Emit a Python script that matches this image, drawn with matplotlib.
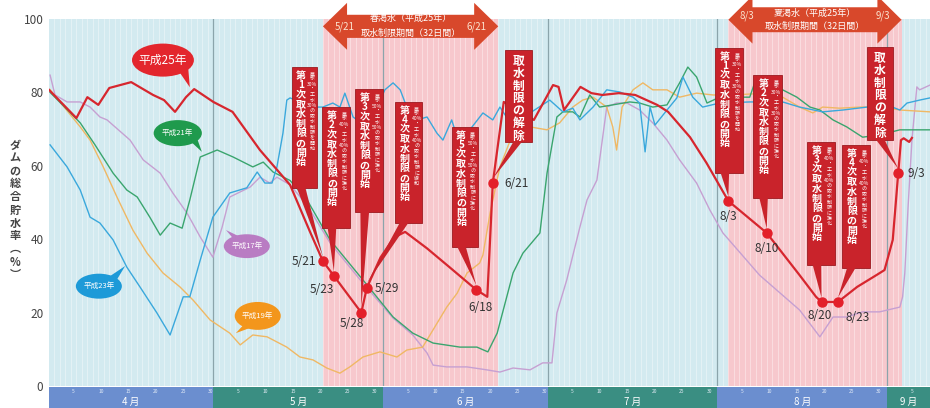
import matplotlib
matplotlib.use("Agg")
import matplotlib.pyplot as plt
import matplotlib.patches as patches
import numpy as np

plt.rcParams['font.family'] = ['Noto Sans CJK JP', 'DejaVu Sans']

# x axis: days counted from April 1 (= 0)
MONTHS = ["4 月", "5 月", "6 月", "7 月", "8 月", "9 月"]
MONTH_LEN = [30, 31, 30, 31, 31, 30]
DAY_TICKS = [5, 10, 15, 20, 25, 30]
X_MAX = 160.8

# 平成25年 (red)
H25_DAY = [0, 5, 7, 9, 11, 15, 19, 21, 23, 25, 26.5, 30, 33.5, 38.5, 44, 47.5,
           50, 52, 57, 58, 60.5, 63, 65, 69, 73, 78, 80, 81, 83, 88.5, 92, 93,
           94, 97, 99, 101, 104, 107, 111, 113, 117, 120, 124, 131, 137, 140,
           141, 144, 147.5, 151, 152.5, 154, 155, 155.5, 156, 157, 157.5]
H25_VAL = [80.7, 73, 78.7, 76.6, 81.2, 82.8, 79.3, 77.9, 74.7, 78.7, 80.9, 77.4,
           74.7, 64.3, 54.8, 42.5, 34, 30, 20, 26.7, 35, 40.5, 42, 37.5, 32.5,
           26.2, 24.3, 55.3, 77.4, 72.5, 82, 81.5, 75.2, 81.5, 79.8, 79.3, 79.8,
           79.3, 76.6, 74.7, 67.8, 60.8, 50.4, 41.7, 30.2, 24.3, 22.9, 22.9, 27,
           30.2, 31.6, 39.8, 58, 67, 67.5, 66.5, 67.6]

# 平成21年 (green)
H21_DAY = [0.2, 5.7, 8.4, 11.7, 14.2, 16.1, 18.4, 20.3, 22.1, 24.3, 25.7, 27.6,
           30.7, 33.6, 37.2, 39.1, 40.9, 44.0, 47.1, 51.3, 57.3, 62.8, 66.4,
           70.1, 75.0, 78.1, 80.1, 81.8, 84.7, 86.5, 89.6, 90.9, 92.7, 93.8,
           95.6, 96.9, 98.7, 100.5, 102.9, 106.0, 107.8, 110.2, 112.8, 115.1,
           116.6, 118.2, 120.1, 122.4, 127.9, 128.8, 133.9, 136.5, 138.9, 140.7,
           143.1, 145.6, 148.5, 151.6, 155.3, 160.8]
H21_VAL = [80, 71.7, 65.7, 58, 53.4, 51.5, 46, 41.1, 44.4, 43, 50.7, 62.4, 64.3,
           62.4, 59.7, 61, 58.3, 56, 50.7, 39.8, 28.9, 18.8, 14.4, 11.7, 10.6,
           10.6, 9.3, 14.4, 30.8, 36.2, 41.7, 58, 73.3, 74.7, 74.7, 73.3, 79.3,
           76, 76.6, 77.4, 77.1, 76, 76.6, 82.6, 86.9, 84.2, 77.1, 78.7, 78.7,
           82.6, 80.7, 78.7, 76, 75.2, 72.5, 70.6, 67.8, 68.4, 69.8, 69.8]

# 平成23年 (blue)
H23_DAY = [0.2, 3.3, 5.7, 7.5, 9.3, 11.7, 14.2, 16.6, 19.7, 22.1, 24.5, 25.7,
           27.6, 29.9, 33.0, 36.1, 38.0, 39.4, 40.7, 41.6, 42.7, 43.4, 44.0,
           46.4, 48.2, 50.0, 51.8, 53.1, 54.0, 55.5, 58.0, 59.9, 61.3, 62.8,
           64.1, 65.3, 67.2, 69.0, 70.8, 71.9, 73.5, 74.5, 76.8, 79.2, 81.0,
           82.3, 84.7, 87.8, 91.4, 93.8, 95.6, 96.9, 99.3, 101.8, 104.2, 106.6,
           107.8, 108.8, 109.7, 110.6, 112.8, 114.6, 115.7, 117.5, 119.3, 122.4,
           127.9, 133.9, 137.0, 141.2, 144.9, 149.3, 152.9, 155.3, 156.6, 158.9,
           160.8]
H23_VAL = [65.7, 59.7, 53.4, 46, 44.4, 39.8, 32.4, 27, 19.9, 13.9, 24.3, 24.3,
           34.3, 46, 52.6, 54, 58.3, 55.3, 55.3, 59.7, 68.9, 77.9, 78.5, 77.1,
           76, 76, 77.1, 76, 79.8, 73.3, 70.6, 76, 80.7, 82.6, 80.7, 76, 72.5,
           73.3, 68.9, 67, 72.5, 67.8, 69.8, 74.4, 72.5, 76, 70.6, 74.4, 77.9,
           74.7, 75.7, 72.5, 76, 80.7, 80.1, 78.7, 77.1, 63.8, 76, 71.1, 75.2,
           78.5, 84.2, 78.7, 76, 77.1, 77.4, 77.4, 76, 74.7, 75.2, 76, 76.6,
           75.2, 77.1, 77.9, 78.5]

# 平成19年 (orange)
H19_DAY = [0.2, 5.7, 7.5, 9.9, 12.4, 15.3, 17.9, 20.8, 23.9, 26.3, 29.4, 33.0,
           34.9, 37.2, 39.8, 43.4, 45.8, 48.2, 50.7, 53.1, 54.9, 57.3, 60.4,
           63.5, 65.3, 68.2, 70.1, 72.6, 74.5, 76.3, 78.6, 79.2, 80.5, 82.3,
           84.7, 87.8, 90.9, 93.2, 95.6, 97.4, 99.3, 101.8, 102.9, 103.6, 104.6,
           106.6, 108.4, 110.2, 112.8, 115.1, 118.2, 121.2, 124.8, 131.0, 133.9,
           137.0, 139.4, 141.2, 144.3, 148.0, 152.2, 155.3, 160.8]
H19_VAL = [80.7, 70.6, 67, 59.7, 51.5, 42.5, 36.2, 30.8, 27, 23.4, 18, 14.4,
           11.2, 13.9, 13.4, 10.6, 7.9, 7.1, 4.9, 3.5, 5.2, 7.9, 9.3, 7.9, 9.8,
           10.6, 15.3, 21.5, 25.3, 30.8, 33.5, 35.7, 47.1, 59.7, 68.9, 70.6,
           69.8, 71.7, 76, 77.9, 78.7, 76, 70.6, 64.3, 76, 80.7, 82.6, 80.7,
           80.7, 78.7, 79.8, 79.3, 79.3, 79.8, 78.7, 76, 74.4, 76, 75.7, 76, 76,
           75.2, 74.7]

# 平成17年 (purple)
H17_DAY = [0.2, 1.1, 3.3, 5.7, 7.5, 9.3, 10.6, 14.8, 17.2, 20.3, 22.6, 25.2,
           27.6, 29.9, 31.6, 33.0, 36.7, 38.5, 40.3, 41.6, 44.0, 47.1, 51.3,
           57.3, 62.8, 66.4, 69.0, 70.1, 72.6, 76.3, 79.9, 82.3, 84.7, 87.8,
           90.1, 91.8, 92.7, 94.5, 96.9, 98.2, 100.0, 101.8, 103.6, 105.5, 107.8,
           110.2, 112.8, 115.1, 118.2, 120.6, 123.0, 129.7, 137.0, 140.7, 143.1,
           145.6, 148.5, 151.6, 155.3, 155.8, 156.2, 156.8, 157.5, 158.4, 158.9,
           160.8]
H17_VAL = [84.7, 79.3, 77.4, 77.4, 76, 73.3, 72.5, 67, 61.6, 58, 52.6, 47.1,
           40.6, 35.1, 43.3, 51.5, 54.2, 56.9, 55.3, 56.9, 54.8, 49.3, 39, 28,
           18.5, 13.9, 9, 5.7, 5.2, 5.2, 4.4, 3.8, 4.9, 4.4, 6.3, 6.3, 19.9,
           28.9, 43.3, 50.7, 56.1, 76, 77.1, 77.1, 75.2, 71.7, 67, 61.6, 55.3,
           48, 41.7, 30.2, 20.7, 13.4, 18.8, 18.8, 20.2, 20.2, 21.5, 24.3, 30.8,
           48.8, 67, 81.5, 80.7, 82]

# restriction periods (平成25年)
SPRING = (50, 82)      # 5/21 - 6/21
SUMMER = (124, 155.6)  # 8/3 - 9/3

EVENT_DAY = [50, 52, 57, 58, 78, 81, 124, 131, 141, 144, 155]
EVENT_VAL = [34, 30, 20, 26.7, 26.2, 55.3, 50.4, 41.7, 22.9, 22.9, 58]
EVENT_LABEL = ["5/21", "5/23", "5/28", "5/29", "6/18", "6/21",
               "8/3", "8/10", "8/20", "8/23", "9/3"]

NOTICE_BIG = ["第1次取水制限の開始", "第2次取水制限の開始", "第3次取水制限の開始",
              "第4次取水制限の開始", "第5次取水制限の開始", "取水制限の解除",
              "第1次取水制限の開始", "第2次取水制限の開始", "第3次取水制限の開始",
              "第4次取水制限の開始", "取水制限の解除"]
NOTICE_SMALL = ["農水30%・工水30%の取水制限を開始",
                "農水40%・工水40%の取水制限に強化",
                "農水50%・工水50%の取水制限に強化",
                "農水40%・工水40%の取水制限に緩和",
                "農水50%・工水50%の取水制限に強化",
                "",
                "農水30%・工水30%の取水制限を開始",
                "農水30%・工水30%の取水制限に強化",
                "農水40%・工水40%の取水制限に強化",
                "農水40%・工水40%の取水制限に強化",
                ""]

BLUE_BG = "#d3eaf0"
PINK_BG = "#f7c8cd"
BOX_RED = "#c9232b"

# box layout (t0, t1, v0, v1) for each notice
NOTICE_BOX = [(44.3, 48.9, 54.0, 86.9), (49.8, 54.9, 43.1, 76.0),
              (55.8, 60.9, 47.4, 80.9), (63.1, 68.1, 44.4, 77.4),
              (73.5, 78.3, 37.9, 70.6), (83.2, 88.1, 66.5, 91.6),
              (121.5, 126.6, 58.0, 92.1), (128.5, 133.8, 51.2, 84.7),
              (138.3, 143.4, 33.0, 66.5), (144.7, 149.8, 32.2, 65.7),
              (149.3, 154.0, 67.0, 92.4)]
# label offsets (points) and alignment
LABEL_OFF = [(-5, 0, "right"), (-9, -10, "center"), (-7, -8, "center"),
             (6, 0, "left"), (3, -13, "center"), (8, 0, "left"),
             (0, -11, "center"), (0, -11, "center"), (-1, -10, "center"),
             (14, -11, "center"), (7, 0, "left")]


def vertical(text):
    # split into vertical cells, keeping "30%" together
    cells = []
    i = 0
    while i < len(text):
        if text[i].isdigit():
            j = i
            while j < len(text) and (text[j].isdigit() or text[j] == "%"):
                j += 1
            cells.append(text[i:j])
            i = j
        else:
            cells.append(text[i])
            i += 1
    return "\n".join(cells)


def draw_notice(ax, box, big, small, px, py):
    t0, t1, v0, v1 = box
    ax.add_patch(patches.Rectangle((t0, v0), t1 - t0, v1 - v0, fc=BOX_RED,
                                   ec="#9c1a1f", lw=0.6, zorder=6))
    if small:
        cx = t0 + (t1 - t0) * 0.36
        sx = t0 + (t1 - t0) * 0.80
    else:
        cx = (t0 + t1) / 2
    # pointer
    ax.add_patch(patches.Polygon([(cx - 0.8, v0 + 0.3), (cx + 0.8, v0 + 0.3),
                                  (px, py + 1.2)], closed=True, fc=BOX_RED,
                                 ec="none", zorder=6))
    if small:
        ax.text(cx, v1 - 1.0, vertical(big), ha="center", va="top",
                fontsize=7.2, linespacing=0.95, color="white",
                fontweight="bold", zorder=7)
        ax.text(sx, v1 - 1.0, vertical(small), ha="center", va="top",
                fontsize=3.6, linespacing=1.1, color="white", zorder=7)
    else:
        ax.text(cx, v1 - 1.3, vertical(big), ha="center", va="top",
                fontsize=8.5, linespacing=0.95, color="white",
                fontweight="bold", zorder=7)


def draw_bubble(ax, cx, cy, w, h, tail, label, color, size):
    ax.add_patch(patches.Ellipse((cx, cy), w, h, fc=color, ec="none", zorder=5))
    ax.add_patch(patches.Polygon(tail, closed=True, fc=color, ec="none",
                                 zorder=5))
    ax.text(cx, cy, label, ha="center", va="center", color="white",
            fontsize=size, zorder=6)


def draw_period_arrow(ax, t0, t1, mid, shaft, head, hl, color):
    pts = [(t0, mid), (t0 + hl, mid + head / 2), (t0 + hl, mid + shaft / 2),
           (t1 - hl, mid + shaft / 2), (t1 - hl, mid + head / 2), (t1, mid),
           (t1 - hl, mid - head / 2), (t1 - hl, mid - shaft / 2),
           (t0 + hl, mid - shaft / 2), (t0 + hl, mid - head / 2)]
    ax.add_patch(patches.Polygon(pts, closed=True, fc=color, ec="none",
                                 clip_on=False, zorder=8))


fig = plt.figure(figsize=(9.3, 4.08), dpi=100)
ax = fig.add_axes([49 / 930, 22 / 408, 881 / 930, 367 / 408])
ax.set_xlim(0, X_MAX)
ax.set_ylim(0, 100)
ax.set_facecolor(BLUE_BG)
for s in ax.spines.values():
    s.set_visible(False)

ax.axvspan(SPRING[0], SPRING[1], color=PINK_BG, lw=0, zorder=0.2)
ax.axvspan(SUMMER[0], SUMMER[1], color=PINK_BG, lw=0, zorder=0.2)
for d in range(1, 161):
    ax.axvline(d, color="white", lw=0.6, alpha=0.45, zorder=0.5)
month_start = np.concatenate([[0], np.cumsum(MONTH_LEN)[:-1]])
for m in month_start[1:]:
    ax.axvline(m, color="#8ba4ab", lw=0.9, zorder=1)

ax.plot(H17_DAY, H17_VAL, color="#c6a0d2", lw=1.0, zorder=2)
ax.plot(H19_DAY, H19_VAL, color="#f0b864", lw=1.0, zorder=2)
ax.plot(H21_DAY, H21_VAL, color="#3aa56e", lw=1.0, zorder=2)
ax.plot(H23_DAY, H23_VAL, color="#3aa8dc", lw=1.0, zorder=2)
ax.plot(H25_DAY, H25_VAL, color="#d7262e", lw=1.6, zorder=3)

for i in range(len(EVENT_DAY)):
    draw_notice(ax, NOTICE_BOX[i], NOTICE_BIG[i], NOTICE_SMALL[i],
                EVENT_DAY[i], EVENT_VAL[i])

ax.plot(EVENT_DAY, EVENT_VAL, "o", color="#e3202a", ms=6.5, zorder=9)
for d, v, lab, (dx, dy, ha) in zip(EVENT_DAY, EVENT_VAL, EVENT_LABEL,
                                   LABEL_OFF):
    ax.annotate(lab, (d, v), xytext=(dx, dy), textcoords="offset points",
                ha=ha, va="center", fontsize=8.5, color="#333333", zorder=9)

# year bubbles
draw_bubble(ax, 20.8, 88.8, 11.3, 9.0, [(23.6, 86.0), (25.4, 86.8), (25.7, 81.4)],
            "平成25年", "#e3262d", 8.5)
draw_bubble(ax, 23.5, 68.9, 8.8, 7.1, [(25.6, 67.0), (26.9, 68.0), (27.9, 63.8)],
            "平成21年", "#1f9a4d", 5.5)
draw_bubble(ax, 36.1, 38.1, 8.4, 6.5, [(34.0, 39.5), (35.2, 40.4), (32.3, 42.5)],
            "平成17年", "#b97cc3", 5.5)
draw_bubble(ax, 9.1, 27.2, 8.4, 6.8, [(11.0, 29.8), (12.4, 29.0), (13.9, 32.7)],
            "平成23年", "#1d9ad8", 5.5)
draw_bubble(ax, 38.1, 19.1, 8.4, 7.6, [(35.6, 16.8), (37.0, 16.0), (34.1, 14.4)],
            "平成19年", "#f3961c", 5.5)

# period arrows above the plot
draw_period_arrow(ax, SPRING[0], SPRING[1], 98.0, 6.3, 12.8, 4.4, "#d8482b")
ax.text((SPRING[0] + SPRING[1]) / 2, 100.3, "春渇水（平成25年）", ha="center",
        va="center", fontsize=6.5, color="white", zorder=9, clip_on=False)
ax.text((SPRING[0] + SPRING[1]) / 2, 96.2, "取水制限期間（32日間）", ha="center",
        va="center", fontsize=6.5, color="white", zorder=9, clip_on=False)
ax.text(SPRING[0] + 4.0, 97.8, "5/21", ha="center", va="center", fontsize=7,
        color="#fbe3cf", zorder=9)
ax.text(SPRING[1] - 4.0, 97.8, "6/21", ha="center", va="center", fontsize=7,
        color="#fbe3cf", zorder=9)

draw_period_arrow(ax, SUMMER[0], SUMMER[1], 99.8, 6.8, 13.0, 4.4, "#d8482b")
ax.text((SUMMER[0] + SUMMER[1]) / 2, 101.5, "夏渇水（平成25年）", ha="center",
        va="center", fontsize=6.5, color="white", zorder=9, clip_on=False)
ax.text((SUMMER[0] + SUMMER[1]) / 2, 98.0, "取水制限期間（32日間）", ha="center",
        va="center", fontsize=6.5, color="white", zorder=9, clip_on=False)
ax.text(SUMMER[0] + 3.4, 101.0, "8/3", ha="center", va="center", fontsize=7,
        color="#fbe3cf", zorder=9, clip_on=False)
ax.text(SUMMER[1] - 3.4, 101.0, "9/3", ha="center", va="center", fontsize=7,
        color="#fbe3cf", zorder=9, clip_on=False)

ax.set_xticks([])
ax.set_yticks([0, 20, 40, 60, 80, 100])
ax.tick_params(axis="y", length=0, pad=4, labelsize=8.5, labelcolor="#444444")

fig.text(15 / 930, 1 - 210 / 408, vertical("ダムの総合貯水率") + "\n︵\n%\n︶",
         ha="center", va="center", fontsize=8, linespacing=1.0,
         color="#444444", fontweight="bold")

# month bar
mb = fig.add_axes([49 / 930, 0, 881 / 930, 21 / 408])
mb.set_xlim(0, X_MAX)
mb.set_ylim(0, 1)
mb.axis("off")
colors = ["#6b8ecf", "#3a8e82"]
for i, (name, start, n) in enumerate(zip(MONTHS, month_start, MONTH_LEN)):
    mb.axvspan(start, start + n, color=colors[i % 2], lw=0)
    end = min(start + n, X_MAX)
    mb.text((start + end) / 2, 0.3, name, ha="center", va="center",
            fontsize=7, color="white")
    for d in DAY_TICKS:
        if d <= n and start + d < X_MAX - 1:
            mb.text(start + d - 0.5, 0.8, str(d), ha="center", va="center",
                    fontsize=3.5, color="#e6eef8")

fig.savefig("out.png", dpi=100)
